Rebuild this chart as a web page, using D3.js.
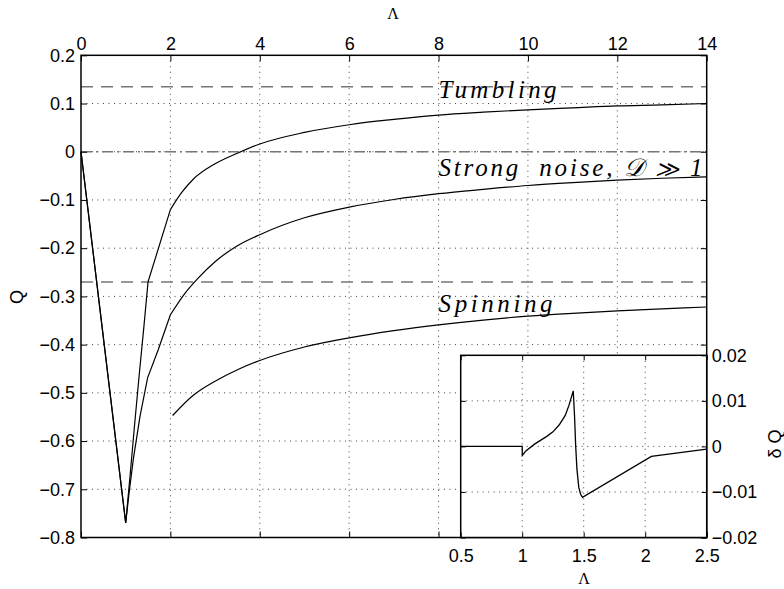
<!DOCTYPE html>
<html>
<head>
<meta charset="utf-8">
<script src="https://cdn.jsdelivr.net/npm/d3@7"></script>
<style>
  body { margin: 0; background: #fff; }
  svg { display: block; }
</style>
</head>
<body>
<div id="vis"></div>
<script>
// tumbling curve (upper branch)
var tumbleLambda = [0, 1.0, 1.1, 1.2, 1.3, 1.41, 1.5, 2.0, 2.25, 2.5, 3.0, 3.5, 4, 5, 6, 7, 8, 9, 10, 11, 12, 13, 14];
var tumbleQ = [0, -0.77, -0.67, -0.565, -0.465, -0.36, -0.27, -0.12, -0.085, -0.058, -0.025, -0.003, 0.016, 0.040, 0.056, 0.067, 0.076, 0.082, 0.087, 0.091, 0.095, 0.097, 0.100];

// strong noise curve
var noiseLambda = [0, 1.0, 1.075, 1.17, 1.32, 1.49, 1.73, 2.0, 2.33, 2.6, 3.0, 3.5, 4, 5, 6, 7, 8, 9, 10, 11, 12, 13, 14];
var noiseQ = [0, -0.77, -0.708, -0.638, -0.549, -0.469, -0.41, -0.338, -0.293, -0.264, -0.228, -0.195, -0.172, -0.137, -0.115, -0.099, -0.087, -0.078, -0.070, -0.064, -0.059, -0.055, -0.052];

// spinning curve
var spinLambda = [2.05, 2.5, 3, 3.5, 4, 5, 6, 7, 8, 9, 10, 11, 12, 13, 14];
var spinQ = [-0.547, -0.506, -0.476, -0.452, -0.433, -0.405, -0.386, -0.371, -0.359, -0.349, -0.341, -0.335, -0.330, -0.326, -0.322];

// inset: difference curve
var insetLambda = [0.5, 1.0, 1.001, 1.03, 1.1, 1.2, 1.25, 1.3, 1.35, 1.38, 1.415, 1.425, 1.435, 1.445, 1.46, 1.475, 1.49, 2.05, 2.5];
var insetDQ = [0, 0, -0.002, -0.001, 0.0005, 0.0022, 0.0032, 0.0047, 0.0068, 0.009, 0.0122, 0.007, 0.0, -0.005, -0.009, -0.0105, -0.0112, -0.0022, -0.0006];

// horizontal reference levels
var tumbleLevel = 0.135;
var zeroLevel = 0;
var spinLevel = -0.27;

var xTicks = [0, 2, 4, 6, 8, 10, 12, 14];
var yTicks = [0.2, 0.1, 0, -0.1, -0.2, -0.3, -0.4, -0.5, -0.6, -0.7, -0.8];
var insetXTicks = [0.5, 1, 1.5, 2, 2.5];
var insetYTicks = [0.02, 0.01, 0, -0.01, -0.02];

var curveNames = ['Tumbling', 'Strong  noise, \uD835\uDC9F \u226B 1', 'Spinning'];

function zip(a, b) {
  return a.map(function (v, i) { return { l: v, q: b[i] }; });
}

var width = 784, height = 589;
var sansFont = 'Liberation Sans, Arial, Helvetica, sans-serif';
var serifFont = 'Liberation Serif, Times New Roman, serif';

var svg = d3.select('#vis').append('svg')
  .attr('width', width)
  .attr('height', height);

var x = d3.scaleLinear().domain([0, 14]).range([81, 706.7]);
var y = d3.scaleLinear().domain([-0.8, 0.2]).range([537.5, 55.3]);

var xi = d3.scaleLinear().domain([0.5, 2.5]).range([460.7, 706.7]);
var yi = d3.scaleLinear().domain([-0.02, 0.02]).range([537.5, 355.3]);

var gridStyle = function (sel) {
  sel.attr('stroke', '#444').attr('stroke-width', 1).attr('stroke-dasharray', '1,4.5');
};

// main grid
svg.append('g').selectAll('line')
  .data(xTicks.slice(1, -1))
  .enter().append('line')
  .attr('x1', function (d) { return x(d); })
  .attr('x2', function (d) { return x(d); })
  .attr('y1', y(0.2)).attr('y2', y(-0.8))
  .call(gridStyle);

svg.append('g').selectAll('line')
  .data(yTicks.slice(1, -1))
  .enter().append('line')
  .attr('x1', x(0)).attr('x2', x(14))
  .attr('y1', function (d) { return y(d); })
  .attr('y2', function (d) { return y(d); })
  .call(gridStyle);

// reference lines
svg.append('g').selectAll('line')
  .data([tumbleLevel, spinLevel])
  .enter().append('line')
  .attr('x1', x(0)).attr('x2', x(14))
  .attr('y1', function (d) { return y(d); })
  .attr('y2', function (d) { return y(d); })
  .attr('stroke', '#777').attr('stroke-width', 1.5)
  .attr('stroke-dasharray', '12,8');

svg.append('line')
  .attr('x1', x(0)).attr('x2', x(14))
  .attr('y1', y(zeroLevel)).attr('y2', y(zeroLevel))
  .attr('stroke', '#777').attr('stroke-width', 1.5)
  .attr('stroke-dasharray', '11,4,2,4');

// curves: straight pieces up to the kink at 2, smooth after
var lineLin = d3.line().x(function (d) { return x(d.l); }).y(function (d) { return y(d.q); });
var lineSmooth = d3.line().curve(d3.curveMonotoneX)
  .x(function (d) { return x(d.l); }).y(function (d) { return y(d.q); });

[zip(tumbleLambda, tumbleQ), zip(noiseLambda, noiseQ), zip(spinLambda, spinQ)].forEach(function (pts) {
  var left = pts.filter(function (d) { return d.l <= 2.05; });
  var right = pts.filter(function (d) { return d.l >= 2; });
  if (left.length > 1) {
    svg.append('path').datum(left).attr('d', lineLin)
      .attr('fill', 'none').attr('stroke', '#000').attr('stroke-width', 1.2);
  }
  svg.append('path').datum(right).attr('d', lineSmooth)
    .attr('fill', 'none').attr('stroke', '#000').attr('stroke-width', 1.2);
});

// curve labels
var labelAt = [[8, 0.112, 118], [8, -0.05, 264], [8, -0.332, 114]];
svg.append('g').selectAll('text')
  .data(curveNames)
  .enter().append('text')
  .attr('x', function (d, i) { return x(labelAt[i][0]); })
  .attr('y', function (d, i) { return y(labelAt[i][1]); })
  .attr('textLength', function (d, i) { return labelAt[i][2]; })
  .attr('lengthAdjust', 'spacing')
  .attr('font-family', serifFont)
  .attr('font-style', 'italic')
  .attr('font-size', 25)
  .attr('fill', '#000')
  .style('white-space', 'pre')
  .text(function (d) { return d; });

// main axes
function styleAxis(g) {
  g.attr('font-family', sansFont).attr('font-size', 18);
  g.select('.domain').remove();
  g.selectAll('.tick line').attr('stroke', '#000');
  g.selectAll('.tick text').attr('fill', '#000');
}

svg.append('g')
  .attr('transform', 'translate(0,' + y(0.2) + ')')
  .call(d3.axisTop(x).tickValues(xTicks).tickSizeInner(-6).tickSizeOuter(0).tickPadding(5))
  .call(styleAxis);

svg.append('g')
  .attr('transform', 'translate(0,' + y(-0.8) + ')')
  .call(d3.axisBottom(x).tickValues(xTicks).tickSizeInner(-6).tickSizeOuter(0).tickFormat(''))
  .call(styleAxis);

svg.append('g')
  .attr('transform', 'translate(' + x(0) + ',0)')
  .call(d3.axisLeft(y).tickValues(yTicks).tickSizeInner(-6).tickSizeOuter(0).tickPadding(6)
    .tickFormat(d3.format('.1~f')))
  .call(styleAxis);

svg.append('g')
  .attr('transform', 'translate(' + x(14) + ',0)')
  .call(d3.axisRight(y).tickValues(yTicks).tickSizeInner(-6).tickSizeOuter(0).tickFormat(''))
  .call(styleAxis);

svg.append('rect')
  .attr('x', x(0)).attr('y', y(0.2))
  .attr('width', x(14) - x(0)).attr('height', y(-0.8) - y(0.2))
  .attr('fill', 'none').attr('stroke', '#000').attr('stroke-width', 1.5);

svg.append('text')
  .attr('x', 393).attr('y', 19)
  .attr('text-anchor', 'middle')
  .attr('font-family', serifFont).attr('font-size', 16)
  .text('\u039B');

svg.append('text')
  .attr('transform', 'translate(23,297) rotate(-90)')
  .attr('text-anchor', 'middle')
  .attr('font-family', sansFont).attr('font-size', 18)
  .text('Q');

// inset
var inset = svg.append('g');
inset.append('rect')
  .attr('x', xi(0.5)).attr('y', yi(0.02))
  .attr('width', xi(2.5) - xi(0.5)).attr('height', yi(-0.02) - yi(0.02))
  .attr('fill', '#fff');

inset.append('g').selectAll('line')
  .data(insetXTicks.slice(1, -1))
  .enter().append('line')
  .attr('x1', function (d) { return xi(d); })
  .attr('x2', function (d) { return xi(d); })
  .attr('y1', yi(0.02)).attr('y2', yi(-0.02))
  .call(gridStyle);

inset.append('g').selectAll('line')
  .data(insetYTicks.slice(1, -1))
  .enter().append('line')
  .attr('x1', xi(0.5)).attr('x2', xi(2.5))
  .attr('y1', function (d) { return yi(d); })
  .attr('y2', function (d) { return yi(d); })
  .call(gridStyle);

var insetLine = d3.line().x(function (d) { return xi(d.l); }).y(function (d) { return yi(d.q); });
inset.append('path').datum(zip(insetLambda, insetDQ))
  .attr('d', insetLine)
  .attr('fill', 'none').attr('stroke', '#000').attr('stroke-width', 1.3);

inset.append('g')
  .attr('transform', 'translate(0,' + yi(-0.02) + ')')
  .call(d3.axisBottom(xi).tickValues(insetXTicks).tickSizeInner(-5).tickSizeOuter(0).tickPadding(12)
    .tickFormat(d3.format('.1~f')))
  .call(styleAxis);

inset.append('g')
  .attr('transform', 'translate(0,' + yi(0.02) + ')')
  .call(d3.axisTop(xi).tickValues(insetXTicks).tickSizeInner(-5).tickSizeOuter(0).tickFormat(''))
  .call(styleAxis);

inset.append('g')
  .attr('transform', 'translate(' + xi(2.5) + ',0)')
  .call(d3.axisRight(yi).tickValues(insetYTicks).tickSizeInner(-5).tickSizeOuter(0).tickPadding(5)
    .tickFormat(d3.format('.2~f')))
  .call(styleAxis);

inset.append('g')
  .attr('transform', 'translate(' + xi(0.5) + ',0)')
  .call(d3.axisLeft(yi).tickValues(insetYTicks).tickSizeInner(-5).tickSizeOuter(0).tickFormat(''))
  .call(styleAxis);

inset.append('rect')
  .attr('x', xi(0.5)).attr('y', yi(0.02))
  .attr('width', xi(2.5) - xi(0.5)).attr('height', yi(-0.02) - yi(0.02))
  .attr('fill', 'none').attr('stroke', '#000').attr('stroke-width', 1.5);

svg.append('text')
  .attr('x', 584).attr('y', 584)
  .attr('text-anchor', 'middle')
  .attr('font-family', serifFont).attr('font-size', 16)
  .text('\u039B');

svg.append('text')
  .attr('transform', 'translate(781,444) rotate(-90)')
  .attr('text-anchor', 'middle')
  .attr('font-family', sansFont).attr('font-size', 18)
  .text('\u03B4 Q');
</script>
</body>
</html>
